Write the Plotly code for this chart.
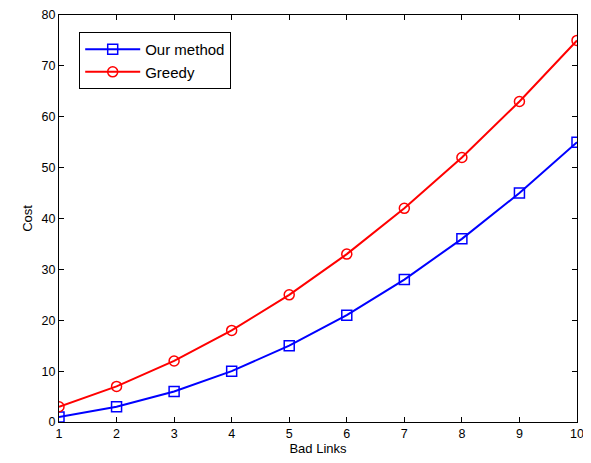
import plotly.graph_objects as go

bad_links = [1, 2, 3, 4, 5, 6, 7, 8, 9, 10]
our_method = [1, 3, 6, 10, 15, 21, 28, 36, 45, 55]
greedy = [3, 7, 12, 18, 25, 33, 42, 52, 63, 75]

fig = go.Figure()
fig.add_trace(go.Scatter(x=bad_links, y=our_method, name="Our method", mode="lines+markers",
                         line=dict(color="#0000FF", width=2),
                         marker=dict(symbol="square-open", size=10, color="#0000FF", line=dict(width=1.5))))
fig.add_trace(go.Scatter(x=bad_links, y=greedy, name="Greedy", mode="lines+markers",
                         line=dict(color="#FF0000", width=2),
                         marker=dict(symbol="circle-open", size=10, color="#FF0000", line=dict(width=1.5))))

axis_common = dict(showline=True, linecolor="black", linewidth=1, mirror="ticks",
                   ticks="inside", ticklen=5, tickcolor="black", showgrid=False, zeroline=False,
                   automargin=False, ticklabeloverflow="allow", tickfont=dict(size=12.5, color="black"))
# page body has an 8px default margin, so the figure is sized/offset to compensate
fig.update_layout(
    width=583, height=455,
    margin=dict(l=51, r=14, t=7, b=41, autoexpand=False),
    paper_bgcolor="white", plot_bgcolor="white",
    font=dict(family="Liberation Sans, Arial", size=13, color="black"),
    xaxis=dict(range=[1, 10], tickvals=bad_links, title=dict(text="Bad Links", standoff=2, font=dict(size=13)), **axis_common),
    yaxis=dict(range=[0, 80], dtick=10, title=dict(text="Cost", standoff=6, font=dict(size=13)), **axis_common),
    legend=dict(x=0.039, y=0.958, xanchor="left", yanchor="top", bordercolor="black", borderwidth=1,
                bgcolor="white", font=dict(size=15), itemwidth=55, tracegroupgap=2),
    showlegend=True,
)
fig.write_html("out.html")
